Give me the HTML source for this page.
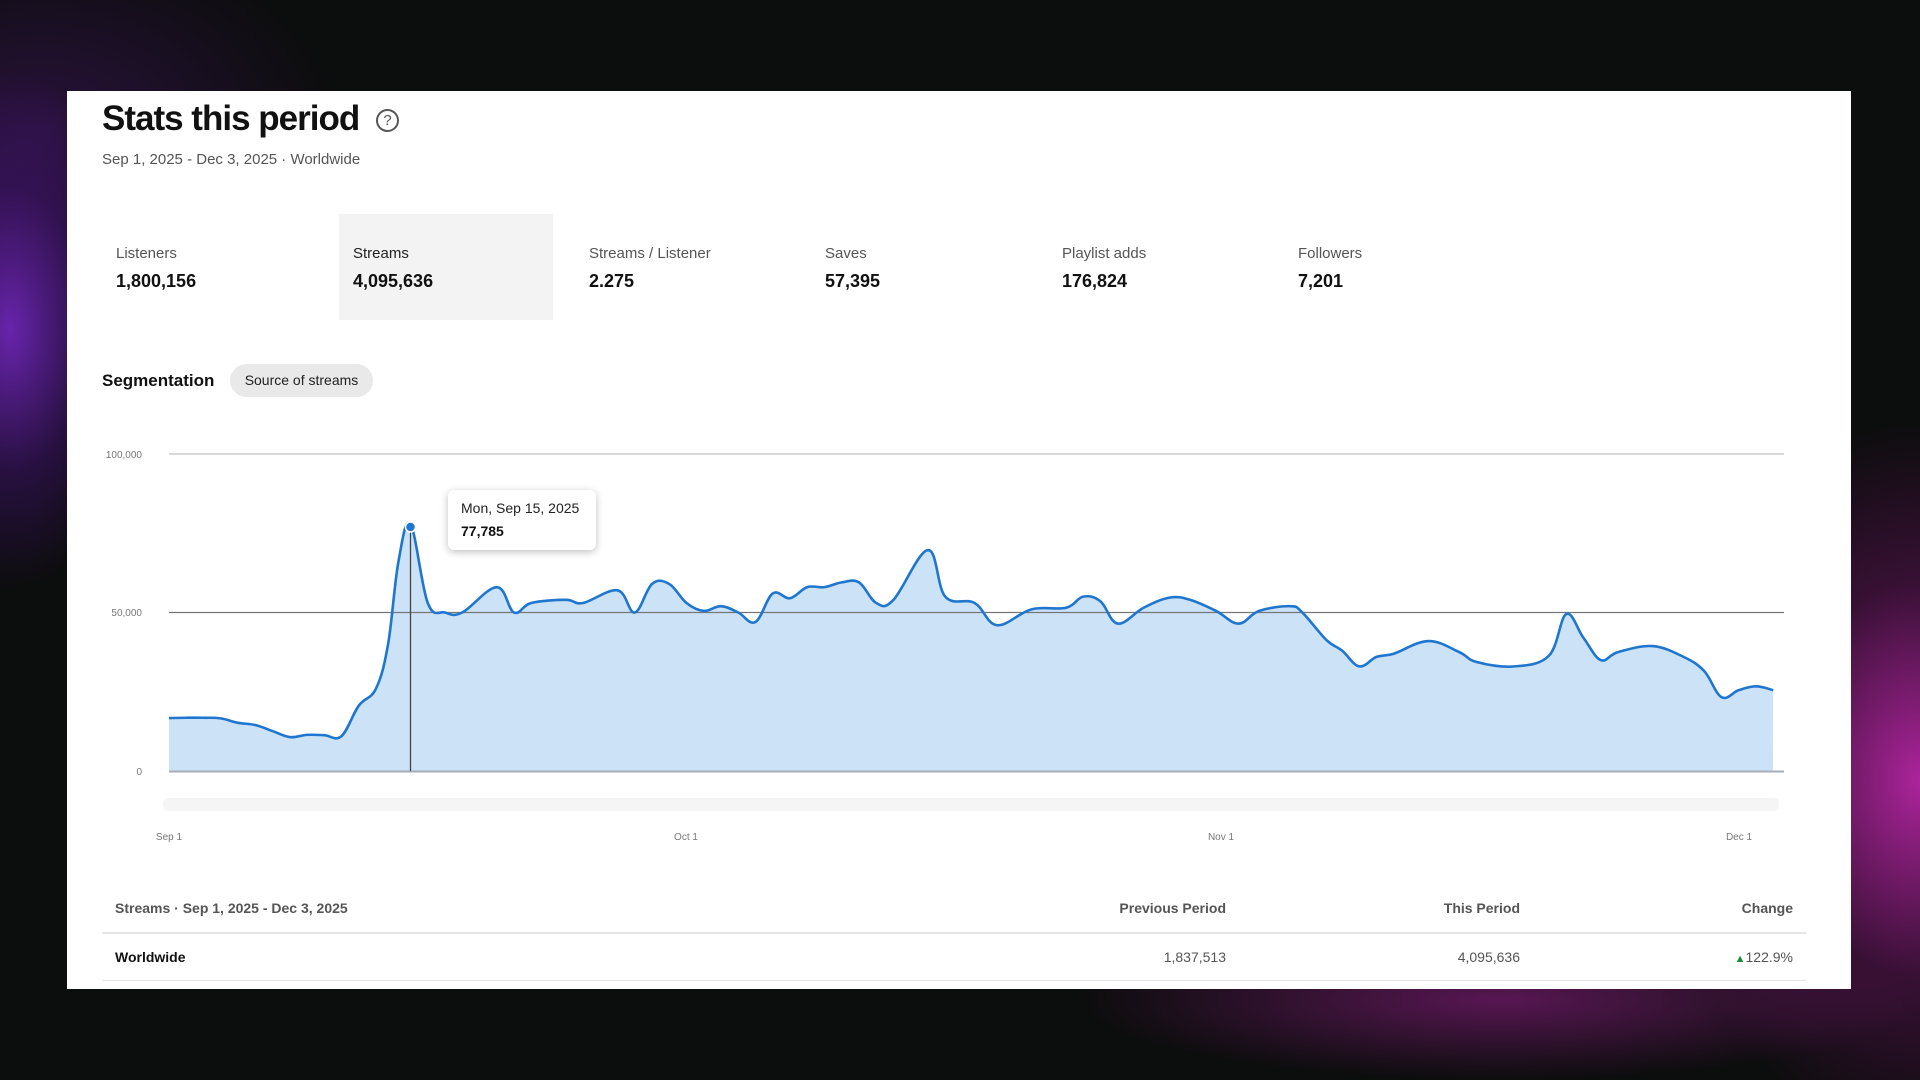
<!DOCTYPE html>
<html><head><meta charset="utf-8"><style>
*{margin:0;padding:0;box-sizing:border-box}
body{width:1920px;height:1080px;overflow:hidden;font-family:"Liberation Sans",sans-serif;
background:
radial-gradient(ellipse 140px 260px at 10px 330px,rgba(120,40,200,.85),rgba(80,20,140,.4) 55%,rgba(0,0,0,0) 100%),
radial-gradient(ellipse 260px 360px at 1920px 780px,rgba(200,40,180,.85),rgba(120,20,110,.4) 55%,rgba(0,0,0,0) 100%),
radial-gradient(ellipse 420px 80px at 1500px 1000px,rgba(150,30,140,.55),rgba(0,0,0,0) 100%),
radial-gradient(ellipse 300px 200px at 40px 130px,rgba(60,20,90,.6),rgba(0,0,0,0) 100%),
#0c0d0d;position:relative}
#p{position:absolute;left:67px;top:91px;width:1784px;height:898px;background:#fff}
.a{position:absolute;white-space:nowrap}
.lab{font-size:15px;color:#555}
.val{font-size:18px;font-weight:bold;color:#111}
</style></head><body>
<div id="p"></div>
<div class="a" style="left:102px;top:99px;font-size:35px;font-weight:bold;color:#111;letter-spacing:-1px">Stats this period</div>
<div class="a" style="left:376px;top:109px;width:23px;height:23px;border:2px solid #555;border-radius:50%;font-size:15px;color:#555;text-align:center;line-height:19px">?</div>
<div class="a" style="left:102px;top:151px;font-size:15px;color:#555">Sep 1, 2025 - Dec 3, 2025 · Worldwide</div>
<div class="a" style="left:339px;top:214px;width:214px;height:106px;background:#f3f3f3"></div>
<div class="a lab" style="left:116px;top:245px">Listeners</div><div class="a val" style="left:116px;top:271px">1,800,156</div>
<div class="a lab" style="left:353px;top:245px;color:#222">Streams</div><div class="a val" style="left:353px;top:271px">4,095,636</div>
<div class="a lab" style="left:589px;top:245px">Streams / Listener</div><div class="a val" style="left:589px;top:271px">2.275</div>
<div class="a lab" style="left:825px;top:245px">Saves</div><div class="a val" style="left:825px;top:271px">57,395</div>
<div class="a lab" style="left:1062px;top:245px">Playlist adds</div><div class="a val" style="left:1062px;top:271px">176,824</div>
<div class="a lab" style="left:1298px;top:245px">Followers</div><div class="a val" style="left:1298px;top:271px">7,201</div>
<div class="a" style="left:102px;top:371px;font-size:17px;font-weight:bold;color:#111">Segmentation</div>
<div class="a" style="left:230px;top:364px;width:143px;height:33px;background:#e9e9e9;border-radius:17px;font-size:14px;color:#222;text-align:center;line-height:33px">Source of streams</div>
<svg class="a" style="left:0;top:0" width="1920" height="1080">
<g font-family="Liberation Sans" font-size="10" fill="#777" text-anchor="end">
<text x="142" y="458">100,000</text><text x="142" y="616">50,000</text><text x="142" y="775">0</text></g>
<line x1="169" y1="454" x2="1784" y2="454" stroke="#ccc" stroke-width="1.5"/>
<path id="fill" fill="#cce2f7"/>
<line x1="169" y1="612.5" x2="1784" y2="612.5" stroke="#777" stroke-width="1.2"/>
<path id="line" fill="none" stroke="#1f76cf" stroke-width="2.6"/>
<line x1="169" y1="771.5" x2="1784" y2="771.5" stroke="#a6adb8" stroke-width="2"/>
<line x1="410.5" y1="527" x2="410.5" y2="771" stroke="#444" stroke-width="1.3"/>
<circle cx="410.5" cy="527" r="5" fill="#1f76cf" stroke="#fff" stroke-width="1.5"/>
<rect x="163" y="798" width="1616" height="13" rx="5" fill="#f5f5f5"/>
<g font-family="Liberation Sans" font-size="10" fill="#777" text-anchor="middle">
<text x="169" y="840">Sep 1</text><text x="686" y="840">Oct 1</text><text x="1221" y="840">Nov 1</text><text x="1739" y="840">Dec 1</text></g>
</svg>
<div class="a" style="left:448px;top:490px;width:148px;height:60px;background:#fff;border-radius:6px;box-shadow:0 2px 8px rgba(0,0,0,.25)"></div>
<div class="a" style="left:461px;top:500px;font-size:14px;color:#222">Mon, Sep 15, 2025</div>
<div class="a" style="left:461px;top:523px;font-size:14px;font-weight:bold;color:#111">77,785</div>
<div class="a" style="left:115px;top:900px;font-size:14px;font-weight:bold;color:#555">Streams · Sep 1, 2025 - Dec 3, 2025</div>
<div class="a" style="right:694px;top:900px;font-size:14px;font-weight:bold;color:#555">Previous Period</div>
<div class="a" style="right:400px;top:900px;font-size:14px;font-weight:bold;color:#555">This Period</div>
<div class="a" style="right:127px;top:900px;font-size:14px;font-weight:bold;color:#555">Change</div>
<div class="a" style="left:102px;top:932px;width:1704px;height:2px;background:#e6e6e6"></div>
<div class="a" style="left:115px;top:949px;font-size:14px;font-weight:bold;color:#111">Worldwide</div>
<div class="a" style="right:694px;top:949px;font-size:14px;color:#555">1,837,513</div>
<div class="a" style="right:400px;top:949px;font-size:14px;color:#555">4,095,636</div>
<div class="a" style="right:127px;top:949px;font-size:14px;color:#555"><span style="color:#1a8a3a;font-size:11px">▲</span>122.9%</div>
<div class="a" style="left:102px;top:980px;width:1704px;height:1px;background:#e6e6e6"></div>
<script>
var d=[[0,16.7],[1,16.8],[2,16.8],[3,16.6],[4,15.2],[5,14.5],[6,12.6],[7,10.7],[8,11.4],[9,11.3],[10,11],[11,20.6],[12,26],[12.7,40],[13.3,66],[14,77.8],[15,53],[16,50],[17,50],[19,58],[20,50],[21,53],[23,54],[24,53],[26,57],[27,50],[28,59],[29,59],[30,53],[31,50.5],[32,52],[33,50],[34,47],[35,56],[36,54.5],[37,58],[38,58],[39,59.5],[40,59.5],[41,53],[42,54],[44,69.7],[45,55],[46.7,53],[48,46],[50,51],[52,51.5],[53,55],[54,53.5],[55,46.5],[56.5,51.5],[58,54.7],[59.2,54],[60.7,50.5],[62,46.5],[63.2,50.5],[65,52],[65.7,50],[67.1,41.3],[68,38],[69,33],[70,36],[71,37],[73,41],[74.8,37.5],[75.8,34.4],[78,33],[80,36.4],[81,49.5],[82,42],[83,35],[84,37.5],[86,39.4],[87.8,36],[89,31.5],[90,23.3],[91,25.5],[92,26.7],[93,25.5]];
var P=d.map(function(a){return [169+a[0]*17.25,771-a[1]*3.17]});
var s="M"+P[0][0]+","+P[0][1];
for(var i=0;i<P.length-1;i++){var p0=P[Math.max(0,i-1)],p1=P[i],p2=P[i+1],p3=P[Math.min(P.length-1,i+2)],t=0.18;
s+=" C"+(p1[0]+(p2[0]-p0[0])*t)+","+(p1[1]+(p2[1]-p0[1])*t)+" "+(p2[0]-(p3[0]-p1[0])*t)+","+(p2[1]-(p3[1]-p1[1])*t)+" "+p2[0]+","+p2[1];}
document.getElementById("line").setAttribute("d",s);
document.getElementById("fill").setAttribute("d",s+" L1773,771 L169,771 Z");
</script>
</body></html>
